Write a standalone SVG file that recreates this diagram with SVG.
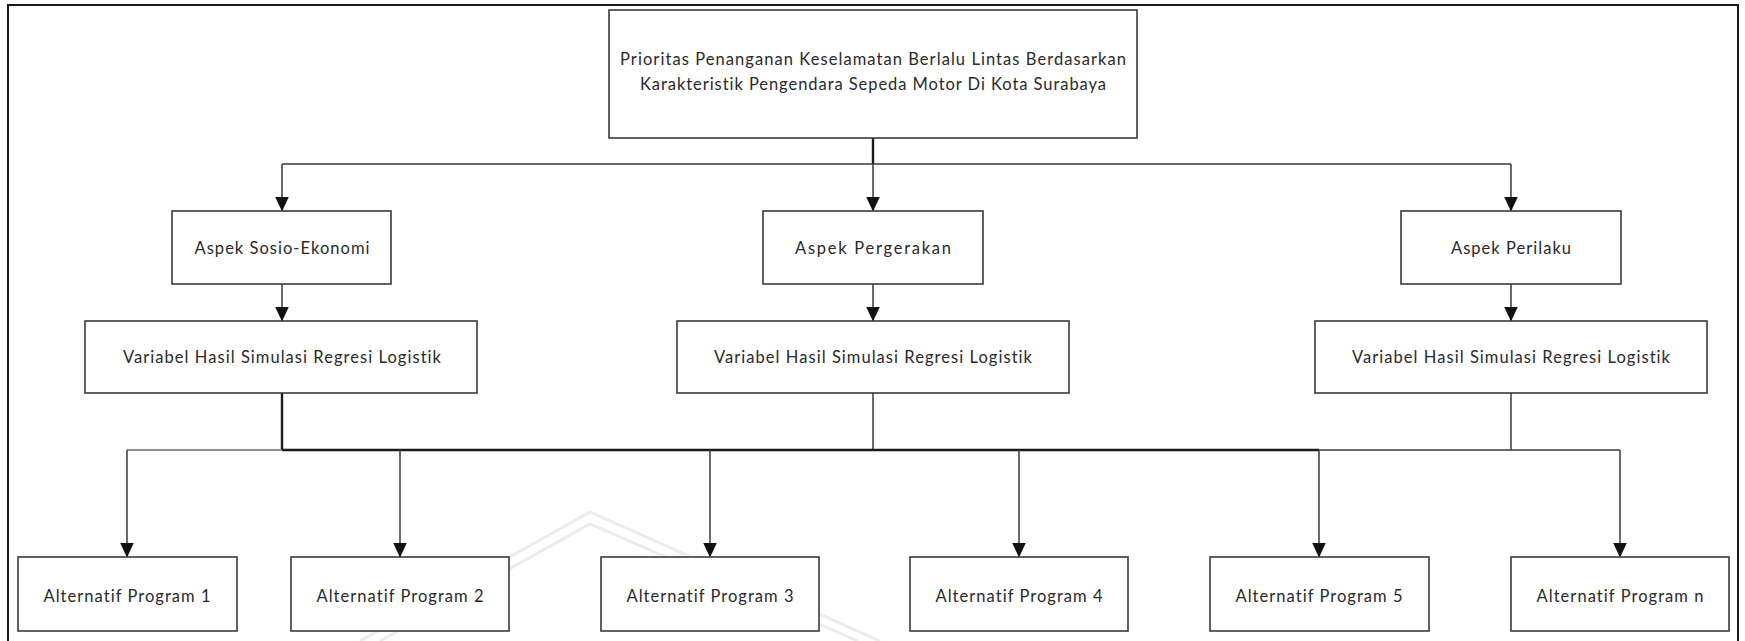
<svg xmlns="http://www.w3.org/2000/svg" width="1745" height="641" viewBox="0 0 1745 641">
  <style>
    .box { fill: #ffffff; stroke: #3a3a3a; stroke-width: 1.6; }
    .lbl { font-family: Lato, "Open Sans", "Liberation Sans", sans-serif; font-size: 16.5px; fill: #2a2a2a; text-anchor: middle; dominant-baseline: central; font-variant-ligatures: none; font-feature-settings: "liga" 0; }
    .ln { fill: none; stroke: #3a3a3a; stroke-width: 1.5; }
    .thin { fill: none; stroke: #6a6a6a; stroke-width: 1.5; }
    .bold { fill: none; stroke: #1a1a1a; stroke-width: 2.4; }
    .arr { fill: none; stroke: #3a3a3a; stroke-width: 1.5; marker-end: url(#head); }
    .wm { fill: none; stroke: #ececec; stroke-width: 3; }
  </style>
  <defs>
    <!-- filled triangular arrowhead, tip on the line end -->
    <marker id="head" markerUnits="userSpaceOnUse" markerWidth="15" markerHeight="14" viewBox="0 0 15 14" refX="14.5" refY="7" orient="auto">
      <path d="M0,0 L15,7 L0,14 Z" fill="#111111"/>
    </marker>
  </defs>

  <rect width="1745" height="641" fill="#ffffff"/>

  <!-- faint background emblem -->
  <g id="emblem">
    <path class="wm" d="M360,641 L590,512 L880,641"/>
    <path class="wm" d="M380,641 L590,524 L858,641"/>
  </g>

  <!-- outer frame -->
  <rect x="8" y="5" width="1730" height="645" fill="none" stroke="#1a1a1a" stroke-width="2"/>

  <!-- connectors -->
  <g id="connectors">
    <path class="bold" d="M873,138 V164"/>
    <path class="ln" d="M282,164 H1511"/>
    <path class="arr" d="M282,164 V211"/>
    <path class="arr" d="M873,164 V211"/>
    <path class="arr" d="M1511,164 V211"/>

    <path class="arr" d="M282,284 V321"/>
    <path class="arr" d="M873,284 V321"/>
    <path class="arr" d="M1511,284 V321"/>

    <path class="bold" d="M282,393 V450"/>
    <path class="ln" d="M873,393 V450"/>
    <path class="ln" d="M1511,393 V450"/>

    <path class="thin" d="M127,450 H282"/>
    <path class="bold" d="M282,450 H1319"/>
    <path class="ln" d="M1319,450 H1620"/>

    <path class="arr" d="M127,450 V557"/>
    <path class="arr" d="M400,450 V557"/>
    <path class="arr" d="M710,450 V557"/>
    <path class="arr" d="M1019,450 V557"/>
    <path class="arr" d="M1319,450 V557"/>
    <path class="arr" d="M1620,450 V557"/>
  </g>

  <!-- goal -->
  <g id="goal">
    <rect class="box" x="609" y="10" width="528" height="128"/>
    <text class="lbl" x="873" y="59" textLength="506">Prioritas Penanganan Keselamatan Berlalu Lintas Berdasarkan</text>
    <text class="lbl" x="873" y="84" textLength="466">Karakteristik Pengendara Sepeda Motor Di Kota Surabaya</text>
  </g>

  <!-- aspects -->
  <g id="aspek-sosio-ekonomi">
    <rect class="box" x="172" y="211" width="219" height="73"/>
    <text class="lbl" x="282" y="248" textLength="175">Aspek Sosio-Ekonomi</text>
  </g>
  <g id="aspek-pergerakan">
    <rect class="box" x="763" y="211" width="220" height="73"/>
    <text class="lbl" x="873" y="248" textLength="156">Aspek Pergerakan</text>
  </g>
  <g id="aspek-perilaku">
    <rect class="box" x="1401" y="211" width="220" height="73"/>
    <text class="lbl" x="1511" y="248" textLength="120">Aspek Perilaku</text>
  </g>

  <!-- regression variables -->
  <g id="variabel-1">
    <rect class="box" x="85" y="321" width="392" height="72"/>
    <text class="lbl" x="282" y="357" textLength="318">Variabel Hasil Simulasi Regresi Logistik</text>
  </g>
  <g id="variabel-2">
    <rect class="box" x="677" y="321" width="392" height="72"/>
    <text class="lbl" x="873" y="357" textLength="318">Variabel Hasil Simulasi Regresi Logistik</text>
  </g>
  <g id="variabel-3">
    <rect class="box" x="1315" y="321" width="392" height="72"/>
    <text class="lbl" x="1511" y="357" textLength="318">Variabel Hasil Simulasi Regresi Logistik</text>
  </g>

  <!-- program alternatives -->
  <g id="alternatif-1">
    <rect class="box" x="18" y="557" width="219" height="74"/>
    <text class="lbl" x="127" y="596" textLength="167">Alternatif Program 1</text>
  </g>
  <g id="alternatif-2">
    <rect class="box" x="291" y="557" width="218" height="74"/>
    <text class="lbl" x="400" y="596" textLength="167">Alternatif Program 2</text>
  </g>
  <g id="alternatif-3">
    <rect class="box" x="601" y="557" width="218" height="74"/>
    <text class="lbl" x="710" y="596" textLength="167">Alternatif Program 3</text>
  </g>
  <g id="alternatif-4">
    <rect class="box" x="910" y="557" width="218" height="74"/>
    <text class="lbl" x="1019" y="596" textLength="167">Alternatif Program 4</text>
  </g>
  <g id="alternatif-5">
    <rect class="box" x="1210" y="557" width="219" height="74"/>
    <text class="lbl" x="1319" y="596" textLength="167">Alternatif Program 5</text>
  </g>
  <g id="alternatif-n">
    <rect class="box" x="1511" y="557" width="218" height="74"/>
    <text class="lbl" x="1620" y="596" textLength="167">Alternatif Program n</text>
  </g>
</svg>
